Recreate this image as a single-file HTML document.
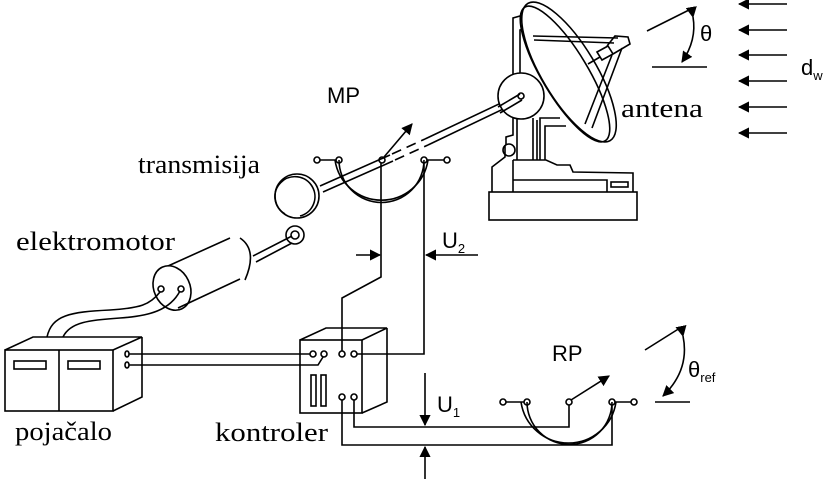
<!DOCTYPE html>
<html><head><meta charset="utf-8"><style>
html,body{margin:0;padding:0;background:#fff;width:827px;height:479px;overflow:hidden}
svg{display:block}
.s{fill:none;stroke:#000;stroke-width:1.6}
.t{font-family:"Liberation Serif",serif;font-size:26px}
.a{font-family:"Liberation Sans",sans-serif;font-size:22px}
.sub{font-family:"Liberation Sans",sans-serif;font-size:13px}
</style></head><body>
<svg width="827" height="479" viewBox="0 0 827 479">
<defs><marker id="ar" viewBox="0 0 10 10" refX="9" refY="5" markerWidth="7" markerHeight="7" orient="auto"><path d="M0,0L10,5L0,10z"/></marker></defs>

<!-- pojacalo -->
<g class="s">
<rect x="5" y="350" width="108" height="61"/><line x1="59" y1="350" x2="59" y2="411"/>
<path d="M5,350L33,337L142,337L113,350M142,337L142,397L113,411"/>
<rect x="14" y="361" width="32" height="8"/><rect x="68" y="361" width="32" height="8"/>
<ellipse cx="127" cy="354" rx="2" ry="3"/><ellipse cx="127" cy="365" rx="2" ry="3"/>
</g>
<text class="t" x="15" y="440" textLength="97" lengthAdjust="spacingAndGlyphs">pojačalo</text>

<!-- kontroler -->
<g class="s">
<rect x="300" y="340" width="62" height="73"/>
<path d="M300,340L326,328L387,328L362,340M387,328L387,402L362,413"/>
<rect x="311" y="375" width="5" height="31"/><rect x="321" y="375" width="5" height="31"/>
<circle cx="313" cy="354" r="3"/><circle cx="324" cy="354" r="3"/><circle cx="342" cy="354" r="3"/><circle cx="354" cy="354" r="3"/>
<circle cx="342" cy="397" r="3"/><circle cx="354" cy="397" r="3"/>
</g>
<text class="t" x="215" y="441" textLength="113" lengthAdjust="spacingAndGlyphs">kontroler</text>

<!-- wires -->
<g class="s">
<path d="M129,354L310,354"/><path d="M129,365L318,365L323,357"/>
<path d="M342,351L342,298L381,277L381,163"/>
<path d="M357,354L424,354L424,163"/>
<path d="M354,400L354,427L569,427L569,405"/>
<path d="M342,400L342,445L612,445L612,405"/>
<path d="M47,337C52,315 70,312 110,310C140,308 150,305 160,292"/>
<path d="M63,337C70,322 90,320 120,318C150,316 170,310 180,291"/>
</g>

<!-- U arrows -->
<g class="s">
<line x1="425" y1="373" x2="425" y2="425" marker-end="url(#ar)"/>
<line x1="425" y1="479" x2="425" y2="447" marker-end="url(#ar)"/>
<line x1="356" y1="255" x2="380" y2="255" marker-end="url(#ar)"/>
<line x1="478" y1="255" x2="426" y2="255" marker-end="url(#ar)"/>
</g>
<text class="a" x="437" y="412">U<tspan class="sub" dy="5">1</tspan></text>
<text class="a" x="442" y="248">U<tspan class="sub" dy="5">2</tspan></text>

<!-- RP potentiometer -->
<g class="s">
<path d="M506,402L524,402M615,402L631,402"/>
<circle cx="503" cy="402" r="3"/><circle cx="634" cy="402" r="3"/><circle cx="527" cy="402" r="3"/><circle cx="612" cy="402" r="3"/><circle cx="569" cy="402" r="3"/>
<path d="M527,402A42,42 0 0 0 612,402"/><path d="M521,402A48,48 0 0 0 616,402"/>
<line x1="571" y1="400" x2="609" y2="376" marker-end="url(#ar)"/>
<line x1="645" y1="350" x2="680" y2="328"/><line x1="655" y1="402" x2="690" y2="402"/>
<path d="M683,336Q690,370 663,396" marker-end="url(#ar)" marker-start="url(#ar)"/>
</g>
<text class="a" x="552" y="361">RP</text>
<text class="a" x="688" y="377">θ<tspan class="sub" dy="5">ref</tspan></text>

<!-- MP potentiometer + shaft -->
<g class="s">
<path d="M320,160L336,160M427,160L444,160"/>
<circle cx="317" cy="160" r="3"/><circle cx="447" cy="160" r="3"/><circle cx="339" cy="160" r="3"/><circle cx="424" cy="160" r="3"/><circle cx="382" cy="160" r="3"/>
<path d="M339,160A42,42 0 0 0 424,160"/><path d="M335,160A47,47 0 0 0 428,160"/>
<line x1="384" y1="157" x2="412" y2="124" marker-end="url(#ar)"/>
<path d="M320,186L390,155M323,192L393,161"/>
<path d="M392,154L425,139M395,160L428,145" stroke-dasharray="10,6"/>
<path d="M425,139L520,94M428,145L522,100"/>
</g>
<text class="a" x="327" y="103">MP</text>

<!-- transmisija -->
<g class="s">
<circle cx="297" cy="196" r="22"/><path d="M285,214A20,20 0 1 1 300,216"/>
<circle cx="295" cy="235" r="9"/><circle cx="295" cy="235" r="4"/>
</g>
<text class="t" x="138" y="173" textLength="122" lengthAdjust="spacingAndGlyphs">transmisija</text>

<!-- elektromotor -->
<g class="s">
<ellipse cx="172" cy="288" rx="18" ry="23" transform="rotate(-25 172 288)"/>
<path d="M168,266L230,238M178,308L240,279"/>
<path d="M240,238Q258,250 245,280"/>
<path d="M253,256L292,236M256,262L292,243"/>
<circle cx="161" cy="289" r="3"/><circle cx="181" cy="289" r="3"/>
</g>
<text class="t" x="16" y="250" textLength="159" lengthAdjust="spacingAndGlyphs">elektromotor</text>

<!-- antenna -->
<g class="s">
<rect x="489" y="192" width="148" height="28"/>
<path d="M492,192L492,167L505,157L505,145"/>
<path d="M513,118L513,135L506,137L506,145"/>
<circle cx="509" cy="150" r="6"/>
<path d="M513,74L513,18L527,14M520,74L520,30L528,28"/>
<path d="M513,160L546,160L557,165L570,165L573,172L633,173L633,192"/>
<path d="M513,180L607,180L607,192"/>
<rect x="611" y="182" width="17" height="5"/>
<path d="M513,160L513,192"/>
<path d="M517,118L517,160M533,118L533,160M537,160L537,120M540,160L540,118L560,118M545,160L545,126L566,126"/>
<circle cx="521" cy="96" r="23" fill="#fff"/><circle cx="521" cy="96" r="3"/>
<path d="M498,107L520,94M500,113L522,100"/>
<ellipse cx="569" cy="72" rx="80" ry="27" transform="rotate(59 569 72)" fill="#fff"/>
<ellipse cx="565" cy="74" rx="78" ry="23" transform="rotate(59 565 74)"/>
<path d="M533,36L618,38M534,40L614,43"/>
<path d="M588,64L600,57"/>
<path d="M597,52L608,46L613,54L602,60Z"/>
<path d="M607,46L615,36L628,37L630,44L613,54"/>
<path d="M622,48L592,128M612,55L585,124"/>
</g>
<text class="t" x="621" y="117" textLength="82" lengthAdjust="spacingAndGlyphs">antena</text>

<!-- theta -->
<g class="s">
<line x1="647" y1="31" x2="693" y2="8"/><line x1="652" y1="67" x2="707" y2="67"/>
<path d="M693,17Q697,40 682,62" marker-end="url(#ar)" marker-start="url(#ar)"/>
</g>
<text class="a" x="700" y="41">θ</text>

<!-- wave arrows -->
<g class="s">
<line x1="787" y1="4" x2="739" y2="4" marker-end="url(#ar)"/>
<line x1="787" y1="30" x2="739" y2="30" marker-end="url(#ar)"/>
<line x1="787" y1="55" x2="739" y2="55" marker-end="url(#ar)"/>
<line x1="787" y1="81" x2="739" y2="81" marker-end="url(#ar)"/>
<line x1="787" y1="107" x2="739" y2="107" marker-end="url(#ar)"/>
<line x1="787" y1="133" x2="739" y2="133" marker-end="url(#ar)"/>
</g>
<text class="a" x="801" y="75">d<tspan class="sub" dy="5">w</tspan></text>
</svg>
</body></html>
